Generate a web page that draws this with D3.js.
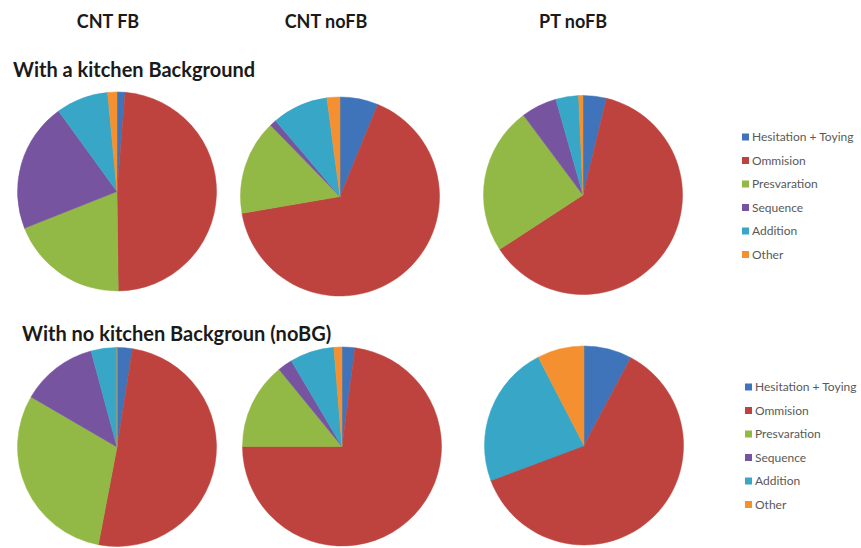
<!DOCTYPE html>
<html>
<head>
<meta charset="utf-8">
<script src="https://cdn.jsdelivr.net/npm/d3@7"></script>
<style>
  html, body { margin: 0; padding: 0; background: #fff; }
  svg { display: block; }
</style>
</head>
<body>
<svg id="chart" width="861" height="548"></svg>
<script>
// Error categories (legend order, clockwise slice order)
const categories = ["Hesitation + Toying", "Ommision", "Presvaration", "Sequence", "Addition", "Other"];
const colors = ["#3F74BA", "#BE423D", "#92B845", "#7654A0", "#38A6C6", "#F4902F"];

// Group headings
const columnTitles = ["CNT FB", "CNT noFB", "PT noFB"];
const rowTitles = ["With a kitchen Background", "With no kitchen Backgroun (noBG)"];

// Percentage of errors per category
const kitchenCntFB   = [1.3, 48.5, 19.2, 21.0, 8.5, 1.5];
const kitchenCntNoFB = [6.2, 66.1, 15.4, 1.1, 9.1, 2.1];
const kitchenPtNoFB  = [3.8, 62.0, 24.0, 5.8, 3.7, 0.7];
const noBgCntFB      = [2.5, 50.5, 30.4, 12.4, 4.2, 0];
const noBgCntNoFB    = [2.1, 72.9, 14.1, 2.4, 7.2, 1.3];
const noBgPtNoFB     = [7.8, 61.5, 0, 0, 23.1, 7.6];

const rows = [
  [kitchenCntFB, kitchenCntNoFB, kitchenPtNoFB],
  [noBgCntFB, noBgCntNoFB, noBgPtNoFB]
];

// Layout
const pieCenters = [
  [[117, 191.5], [340, 196.5], [583, 195]],
  [[117, 447], [342, 446.5], [584, 445.5]]
];
const radius = 99.5;
const titleX = [108, 326, 573];
const rowTitleX = [13, 22];
const rowTitleY = [77, 341];
const rowTitleSize = [20, 20];
const legendX = [742, 745];
const legendY = [137, 387];
const legendStep = 23.5;

const svg = d3.select("#chart");
const font = "Lato, 'Open Sans', sans-serif";

const pie = d3.pie().sort(null).value(d => d);
const arc = d3.arc().innerRadius(0).outerRadius(radius);
const color = d3.scaleOrdinal().domain(categories).range(colors);

// Column headings
svg.selectAll("text.col-title")
  .data(columnTitles)
  .join("text")
  .attr("class", "col-title")
  .attr("x", (d, i) => titleX[i])
  .attr("y", 28)
  .attr("text-anchor", "middle")
  .attr("font-family", font)
  .attr("font-weight", "bold")
  .attr("font-size", 18)
  .attr("fill", "#1a1a1a")
  .text(d => d);

rows.forEach((row, r) => {
  // Row heading
  svg.append("text")
    .attr("x", rowTitleX[r])
    .attr("y", rowTitleY[r])
    .attr("font-family", font)
    .attr("font-weight", "bold")
    .attr("font-size", rowTitleSize[r])
    .attr("fill", "#1a1a1a")
    .text(rowTitles[r]);

  // Pies
  row.forEach((values, c) => {
    const [cx, cy] = pieCenters[r][c];
    const g = svg.append("g").attr("transform", `translate(${cx},${cy})`);
    g.selectAll("path")
      .data(pie(values).map((p, i) => ({ ...p, cat: categories[i] })))
      .join("path")
      .attr("d", arc)
      .attr("fill", d => color(d.cat))
      .attr("stroke", d => color(d.cat))
      .attr("stroke-width", 0.5);
  });

  // Legend
  const lg = svg.append("g").attr("transform", `translate(${legendX[r]},${legendY[r]})`);
  const items = lg.selectAll("g")
    .data(categories)
    .join("g")
    .attr("transform", (d, i) => `translate(0,${i * legendStep})`);
  items.append("rect")
    .attr("x", 0).attr("y", -3.5)
    .attr("width", 7).attr("height", 7)
    .attr("fill", d => color(d));
  items.append("text")
    .attr("x", 10)
    .attr("y", 0)
    .attr("dy", "0.35em")
    .attr("font-family", font)
    .attr("font-size", 12)
    .attr("fill", "#595959")
    .text(d => d);
});
</script>
</body>
</html>
